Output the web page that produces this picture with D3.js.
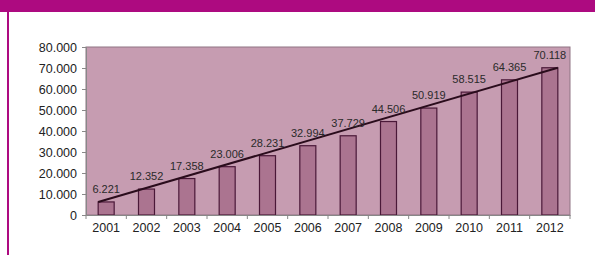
<!DOCTYPE html>
<html><head><meta charset="utf-8">
<script src="https://cdn.jsdelivr.net/npm/d3@7"></script>
<style>body{margin:0;background:#fff}svg{display:block}</style>
</head><body>
<script>
const years = ["2001","2002","2003","2004","2005","2006","2007","2008","2009","2010","2011","2012"];
const values = [6221,12352,17358,23006,28231,32994,37729,44506,50919,58515,64365,70118];
const yTicks = [0,10000,20000,30000,40000,50000,60000,70000,80000];

const W=595,H=260;
const svg=d3.select("body").append("svg").attr("width",W).attr("height",H);
const fmt=v=>v===0?"0":d3.format(",")(v).replace(/,/g,".");
const fmtL=v=>d3.format(",")(v).replace(/,/g,".");

// frame decorations
svg.append("rect").attr("x",0).attr("y",0).attr("width",W).attr("height",12).attr("fill","#ad0a80");
svg.append("rect").attr("x",7).attr("y",12).attr("width",2).attr("height",243).attr("fill","#ad0a80");

const m={l:86,r:570,t:47,b:215};
const x=d3.scaleBand().domain(years).range([m.l,m.r]).paddingInner(0).paddingOuter(0);
const y=d3.scaleLinear().domain([0,80000]).range([m.b,m.t]);

svg.append("rect").attr("x",m.l).attr("y",m.t).attr("width",m.r-m.l).attr("height",m.b-m.t)
  .attr("fill","#c69cb1").attr("stroke","#8f7483").attr("stroke-width",1);

const bw=16;
svg.selectAll("rect.bar").data(values).join("rect").attr("class","bar")
  .attr("x",(d,i)=>x(years[i])+x.bandwidth()/2-bw/2)
  .attr("y",d=>y(d)).attr("width",bw).attr("height",d=>y(0)-y(d))
  .attr("fill","#ab7490").attr("stroke","#4a1838").attr("stroke-width",1.2);

// straight trend line from first bar top-left to last bar top-right
const n=values.length;
const p0=[x(years[0])+x.bandwidth()/2-bw/2,y(values[0])];
const p1=[x(years[n-1])+x.bandwidth()/2+bw/2,y(values[n-1])];
svg.append("path").attr("d",d3.line()([p0,p1])).attr("fill","none").attr("stroke","#2a0c1c").attr("stroke-width",2);

// axes
const ya=svg.append("g").attr("transform",`translate(${m.l},0)`)
  .call(d3.axisLeft(y).tickValues(yTicks).tickFormat(fmt).tickSize(4).tickPadding(5));
ya.select(".domain").attr("stroke","#888");
ya.selectAll("line").attr("stroke","#888");
ya.selectAll("text").attr("font-family","Liberation Sans, Arial, sans-serif").attr("font-size","12.5px").attr("fill","#222");

const xa=svg.append("g").attr("transform",`translate(0,${m.b})`)
  .call(d3.axisBottom(x).tickSize(0).tickPadding(8));
xa.select(".domain").attr("stroke","#888");
xa.selectAll("text").attr("font-family","Liberation Sans, Arial, sans-serif").attr("font-size","12.5px").attr("fill","#222");
svg.selectAll("line.xt").data(d3.range(years.length+1)).join("line").attr("class","xt")
  .attr("x1",i=>m.l+i*x.bandwidth()).attr("x2",i=>m.l+i*x.bandwidth())
  .attr("y1",m.b).attr("y2",m.b+4).attr("stroke","#888");

// data labels
svg.selectAll("text.lab").data(values).join("text").attr("class","lab")
  .attr("x",(d,i)=>x(years[i])+x.bandwidth()/2).attr("y",d=>y(d)-9)
  .attr("text-anchor","middle").attr("font-family","Liberation Sans, Arial, sans-serif")
  .attr("font-size","11px").attr("fill","#2a2a2a").text(fmtL);
</script>
</body></html>
